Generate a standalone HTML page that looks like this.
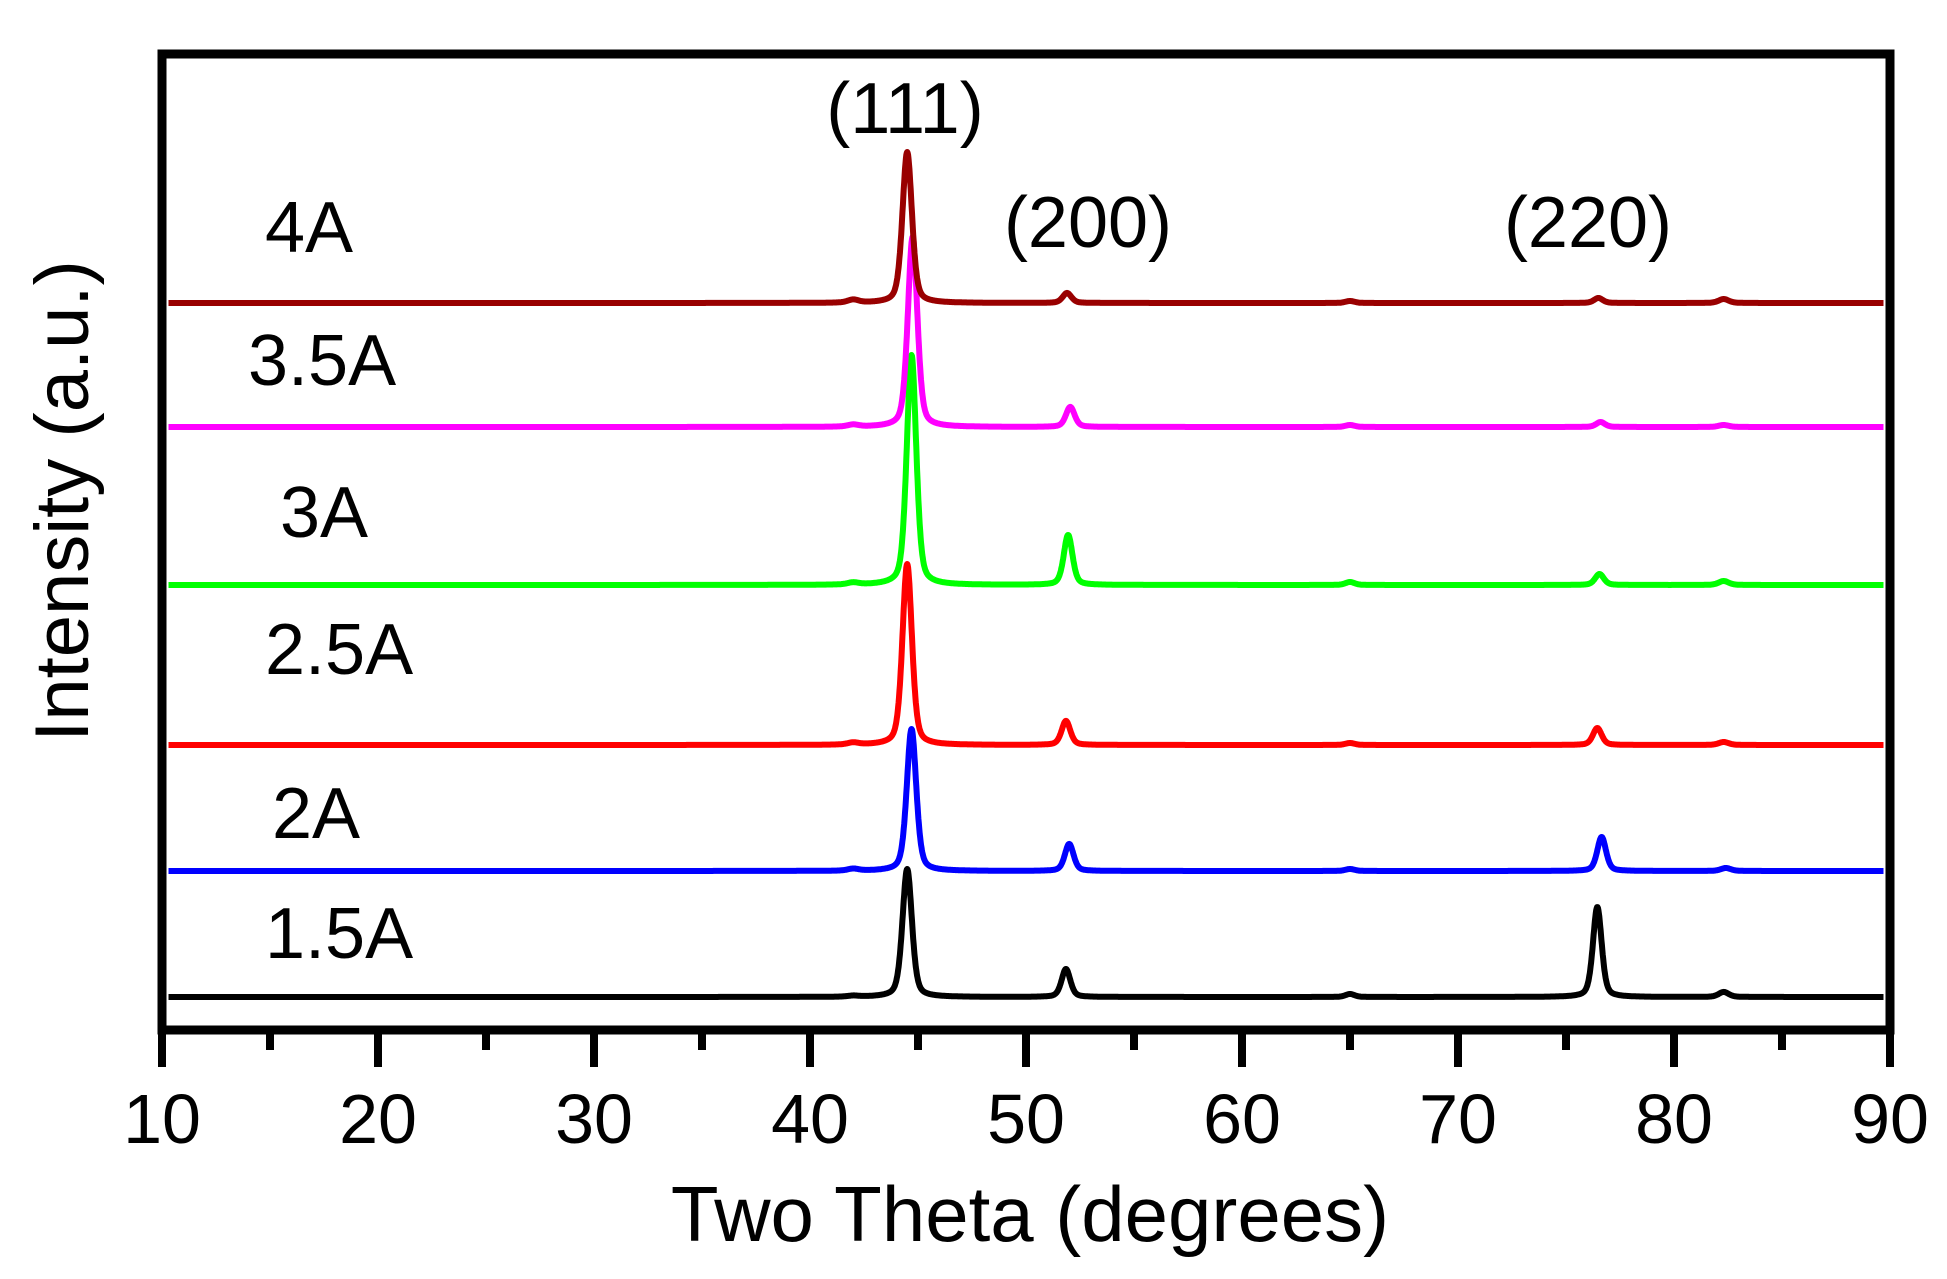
<!DOCTYPE html>
<html><head><meta charset="utf-8"><style>
html,body{margin:0;padding:0;background:#fff;}
svg{display:block;font-family:"Liberation Sans",Arial,sans-serif;}
</style></head><body>
<svg id="chart" width="1947" height="1279" viewBox="0 0 1947 1279">
<rect width="1947" height="1279" fill="#fff"/>
<g id="series"></g>
<g id="axes"></g>
</svg>
<script>
const xTicks = [10,20,30,40,50,60,70,80,90];
const minorTicks = [15,25,35,45,55,65,75,85];
const seriesNames = ["1.5A","2A","2.5A","3A","3.5A","4A"];
const seriesColors = ["#000000","#0000ff","#ff0000","#00ff00","#ff00ff","#990000"];
const seriesOffsets = [0, 126, 252, 412, 570, 694];
// peak positions (2theta)
const peakPos = [[44.5,51.85,65.0,76.45,82.3,42.0],[44.7,52.0,65.0,76.65,82.4,42.0],[44.5,51.85,65.0,76.45,82.3,42.0],[44.7,51.95,65.0,76.55,82.3,42.0],[44.75,52.05,65.0,76.6,82.3,42.0],[44.5,51.9,65.0,76.5,82.3,42.0]];
// peak heights (a.u.)
const peakHeights = [[128,28,3,90,5,1],[142,27,2,34,3,2],[181,24,2,17,3,2],[230,50,3,11,4,2],[190,20,2,5,2,2],[151,10,2,5,4,3]];
const peakWidths = [0.52,0.48,0.5,0.48,0.55,0.6];

const X0=162, X1=1890, Ybase=997;
const xs = v => X0 + (v-10)/80*(X1-X0);
const ys = (v,off) => Ybase - off - v;
const NS="http://www.w3.org/2000/svg";
function mk(tag, attrs, parent){const e=document.createElementNS(NS,tag);for(const k in attrs)e.setAttribute(k,attrs[k]);parent.appendChild(e);return e;}
const sg=document.getElementById('series'), ag=document.getElementById('axes');

seriesNames.forEach((nm,i)=>{
  let d="";
  for(let t=10.3;t<=89.7;t+=0.02){
    let y=0;
    peakPos[i].forEach((p,j)=>{const w=peakWidths[j]/2;const u=(t-p)/w;y+=peakHeights[i][j]*(0.6*Math.exp(-0.693*u*u)+0.4/(1+u*u));});
    d+=(d?"L":"M")+xs(t).toFixed(1)+","+ys(y,seriesOffsets[i]).toFixed(1);
  }
  const p=mk('path',{d:d,fill:'none',stroke:seriesColors[i],'stroke-width':6,'stroke-linejoin':'round'},sg);
  
  
});

// frame
const fr=mk('rect',{x:X0,y:54,width:X1-X0,height:1030-54,fill:'none',stroke:'#000','stroke-width':9},ag);


xTicks.forEach(v=>{
  const l=mk('line',{x1:xs(v),x2:xs(v),y1:1030,y2:1067,stroke:'#000','stroke-width':8},ag);
  
  
  const t=mk('text',{x:xs(v),y:1143,'font-size':70,'text-anchor':'middle'},ag);
  t.textContent=v;
  
  
});
minorTicks.forEach(v=>{
  const l=mk('line',{x1:xs(v),x2:xs(v),y1:1030,y2:1050,stroke:'#000','stroke-width':8},ag);
  
  
});
const labels=[["4A",265,252],["3.5A",248,385],["3A",280,537],["2.5A",265,674],["2A",272,838],["1.5A",265,958]];
labels.forEach(a=>{
  const t=mk('text',{x:a[1],y:a[2],'font-size':72},ag);
  t.textContent=a[0];
  
  
});
const hkl=[["(111)",905,133],["(200)",1088,247],["(220)",1588,247]];
hkl.forEach(a=>{
  const t=mk('text',{x:a[1],y:a[2],'font-size':72,'text-anchor':'middle'},ag);
  t.textContent=a[0];
  
  
});
const xt=mk('text',{x:1030,y:1241,'font-size':78,'text-anchor':'middle'},ag);
xt.textContent="Two Theta (degrees)";


const yt=mk('text',{x:0,y:0,'font-size':76,'text-anchor':'middle',transform:'translate(88,501) rotate(-90)'},ag);
yt.textContent="Intensity (a.u.)";


</script>
</body></html>
